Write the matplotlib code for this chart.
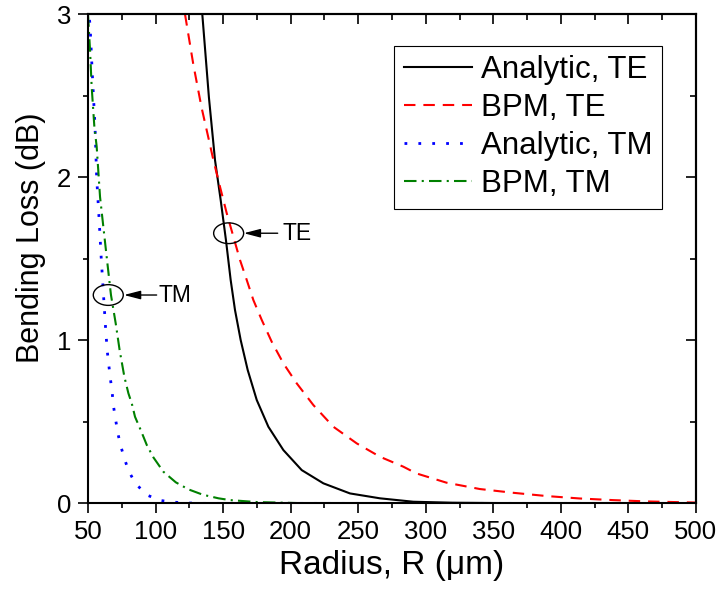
import matplotlib
matplotlib.use("Agg")
import matplotlib.pyplot as plt
from matplotlib.patches import Ellipse
from matplotlib.ticker import MultipleLocator

# radius (um) and bending loss (dB)
r_te_analytic = [134.6, 139.5, 144.0, 148.2, 152.1, 155.6, 158.8, 163.0, 168.2, 174.9,
                 183.5, 194.6, 208.2, 224.2, 243.9, 266.1, 290.8, 320.0, 360.0, 420.0,
                 500.0]
loss_te_analytic = [3.0, 2.49, 2.106, 1.861, 1.615, 1.37, 1.186, 1.002, 0.818, 0.634,
                    0.47, 0.327, 0.204, 0.123, 0.061, 0.031, 0.01, 0.004, 0.0015, 0.0004,
                    0.0]

r_te_bpm = [121.8, 128.0, 134.0, 140.0, 142.8, 147.7, 152.7, 157.6, 162.5, 167.5,
            172.4, 178.6, 186.0, 194.6, 204.5, 216.8, 231.6, 248.9, 266.1, 283.4,
            293.0, 315.3, 340.0, 364.6, 389.3, 414.0, 438.7, 463.4, 500.0]
loss_te_bpm = [3.0, 2.69, 2.43, 2.21, 2.106, 1.942, 1.779, 1.636, 1.493, 1.37,
               1.247, 1.125, 0.991, 0.859, 0.736, 0.603, 0.47, 0.368, 0.286, 0.225,
               0.184, 0.127, 0.088, 0.065, 0.045, 0.03, 0.02, 0.012, 0.005]

r_tm_analytic = [50.0, 51.5, 53.2, 55.2, 56.4, 58.1, 59.6, 61.3, 63.1, 64.3,
                 65.5, 66.8, 68.0, 69.0, 70.5, 72.0, 74.2, 76.9, 80.1, 85.3,
                 93.7, 103.3, 112.7, 121.0, 135.0, 500.0]
loss_tm_analytic = [3.05, 2.935, 2.63, 2.31, 2.0, 1.76, 1.53, 1.30, 1.063, 0.93,
                    0.84, 0.75, 0.669, 0.589, 0.511, 0.433, 0.353, 0.276, 0.198, 0.12,
                    0.051, 0.018, 0.008, 0.003, 0.0, 0.0]

r_tm_bpm = [50.0, 51.5, 52.7, 54.7, 56.4, 58.9, 61.3, 63.8, 67.0, 70.5,
            73.4, 76.9, 79.9, 82.4, 84.8, 89.0, 93.5, 98.4, 105.8, 115.0,
            124.3, 135.0, 146.6, 155.2, 175.0, 200.0, 215.0, 500.0]
loss_tm_bpm = [3.0, 2.78, 2.556, 2.31, 2.19, 1.88, 1.70, 1.513, 1.278, 1.104,
               0.94, 0.777, 0.675, 0.613, 0.531, 0.45, 0.358, 0.282, 0.194, 0.129,
               0.086, 0.053, 0.031, 0.02, 0.008, 0.003, 0.0, 0.0]

labels = ["Analytic, TE", "BPM, TE", "Analytic, TM", "BPM, TM"]

# marker circles + arrows: (centre R, centre loss, arrow tip R, arrow tail R, text R, text)
te_note = (154.1, 1.657, 165.3, 190.4, 194.3, "TE")
tm_note = (65.0, 1.278, 76.6, 100.8, 102.5, "TM")

plt.rcParams['font.family'] = ['Liberation Sans', 'DejaVu Sans']

fig = plt.figure(figsize=(7.22, 5.95), dpi=100)
ax = fig.add_axes([0.1219, 0.154, 0.842, 0.822])

lw = 1.5
ax.plot(r_te_analytic, loss_te_analytic, color='black', lw=lw, label=labels[0])
ax.plot(r_te_bpm, loss_te_bpm, color='#ff0000', lw=lw, dashes=(5.5, 3.8), label=labels[1])
ax.plot(r_tm_analytic, loss_tm_analytic, color='#0000ff', lw=2.0, dashes=(1, 4.0), label=labels[2])
ax.plot(r_tm_bpm, loss_tm_bpm, color='#008000', lw=lw, dashes=(6, 2.5, 1, 2.5), label=labels[3])

ax.set_xlim(50, 500)
ax.set_ylim(0, 3)

for cx, cy, tip, tail, tx, txt in (te_note, tm_note):
    ax.add_patch(Ellipse((cx, cy), 22.2, 0.127, fill=False, ec='black', lw=1.0, zorder=5))
    ax.annotate('', xy=(tip, cy), xytext=(tail, cy),
                arrowprops=dict(arrowstyle='-|>,head_length=0.5,head_width=0.13',
                                mutation_scale=20, color='black', lw=1.0,
                                shrinkA=0, shrinkB=0))
    ax.text(tx, cy, txt, fontsize=16.5, va='center', ha='left')

ax.xaxis.set_major_locator(MultipleLocator(50))
ax.xaxis.set_minor_locator(MultipleLocator(25))
ax.yaxis.set_major_locator(MultipleLocator(1))
ax.yaxis.set_minor_locator(MultipleLocator(0.5))
ax.tick_params(which='both', direction='out', width=1.2, labelsize=18.5, pad=5)
ax.tick_params(which='major', length=7)
ax.tick_params(which='minor', length=3.5)

# top / right ticks point inwards
top = ax.secondary_xaxis('top')
top.xaxis.set_major_locator(MultipleLocator(50))
top.xaxis.set_minor_locator(MultipleLocator(25))
top.tick_params(which='both', direction='in', width=1.2, labeltop=False)
top.tick_params(which='major', length=7)
top.tick_params(which='minor', length=4)
right = ax.secondary_yaxis('right')
right.yaxis.set_major_locator(MultipleLocator(1))
right.yaxis.set_minor_locator(MultipleLocator(0.5))
right.tick_params(which='both', direction='in', width=1.2, labelright=False)
right.tick_params(which='major', length=7)
right.tick_params(which='minor', length=4)

for sp in ax.spines.values():
    sp.set_linewidth(1.5)
top.spines['top'].set_linewidth(1.5)
right.spines['right'].set_linewidth(1.5)

ax.set_xlabel('Radius, R (\u03bcm)', fontsize=24)
ax.set_ylabel('Bending Loss (dB)', fontsize=22)
ax.yaxis.set_label_coords(-0.069, 0.5425)

leg = ax.legend(loc='upper right', bbox_to_anchor=(0.944, 0.936), borderaxespad=0,
                fontsize=22.5, fancybox=False, framealpha=1, edgecolor='black',
                borderpad=0.3, labelspacing=0.26, handlelength=2.2, handletextpad=0.27)
leg.get_frame().set_linewidth(0.8)

plt.savefig('out.png', dpi=100)
